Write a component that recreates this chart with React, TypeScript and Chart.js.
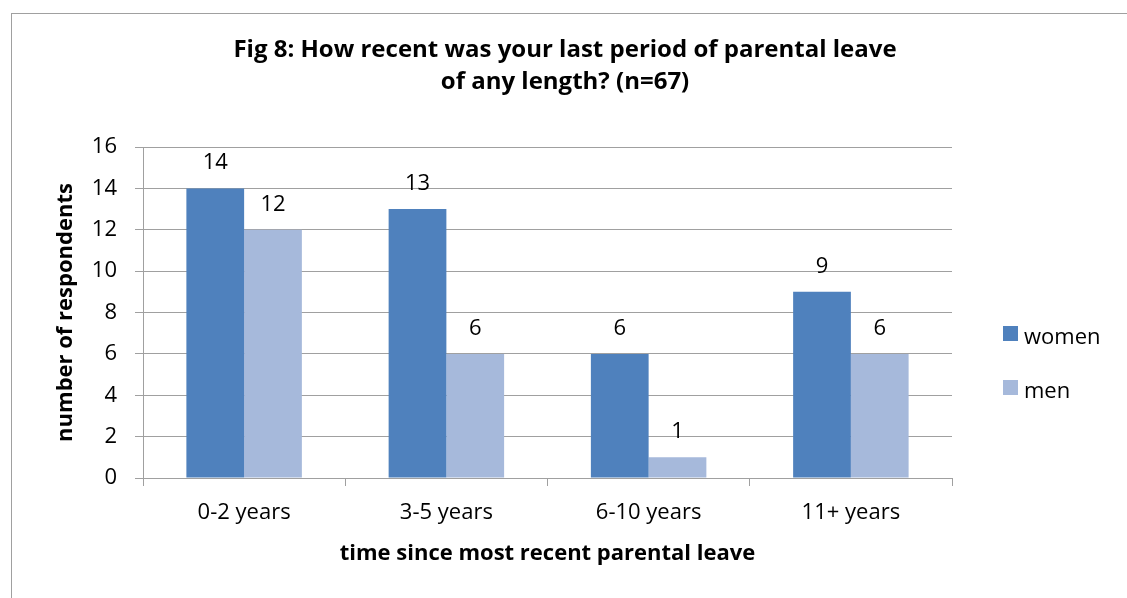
import React, { useEffect, useRef } from "react";
import { Chart, registerables } from "chart.js";

Chart.register(...registerables);

// ---- data ----
const categories = ["0-2 years", "3-5 years", "6-10 years", "11+ years"];
const seriesNames = ["women", "men"];
const womenValues = [14, 13, 6, 9];
const menValues = [12, 6, 1, 6];
const yMin = 0;
const yMax = 16;
const yStep = 2;
const titleLines = [
  "Fig 8: How recent was your last period of parental leave",
  "of any length? (n=67)",
];
const yAxisTitle = "number of respondents";
const xAxisTitle = "time since most recent parental leave";

// ---- styles ----
const FONT = "'Open Sans', 'Noto Sans', sans-serif";
const WOMEN_COLOR = "#4F81BD";
const MEN_COLOR = "#A6B9DB";
const GRID = "#A0A0A0";
const TEXT = "#000000";

const framePlugin = {
  id: "frame",
  beforeDraw(chart: any) {
    const ctx = chart.ctx;
    ctx.save();
    ctx.fillStyle = "#ffffff";
    ctx.fillRect(0, 0, chart.width, chart.height);
    ctx.strokeStyle = GRID;
    ctx.lineWidth = 1;
    ctx.strokeRect(11.5, 13.5, chart.width + 40, chart.height + 40);
    ctx.restore();
  },
};

const titlePlugin = {
  id: "customTitle",
  afterDraw(chart: any) {
    const ctx = chart.ctx;
    ctx.save();
    ctx.fillStyle = TEXT;
    ctx.font = `bold 24px ${FONT}`;
    ctx.textAlign = "center";
    ctx.textBaseline = "alphabetic";
    const cx = 565;
    ctx.fillText(titleLines[0], cx, 56.5);
    ctx.fillText(titleLines[1], cx, 89);
    ctx.restore();
  },
};

const valueLabelPlugin = {
  id: "valueLabels",
  afterDatasetsDraw(chart: any) {
    const ctx = chart.ctx;
    ctx.save();
    ctx.fillStyle = TEXT;
    ctx.font = `22px ${FONT}`;
    ctx.textAlign = "center";
    ctx.textBaseline = "alphabetic";
    chart.data.datasets.forEach((ds: any, di: number) => {
      const meta = chart.getDatasetMeta(di);
      meta.data.forEach((el: any, i: number) => {
        ctx.fillText(String(ds.data[i]), el.x, el.y - 19);
      });
    });
    ctx.restore();
  },
};

const legendPlugin = {
  id: "customLegend",
  afterDraw(chart: any) {
    const ctx = chart.ctx;
    ctx.save();
    ctx.font = `22px ${FONT}`;
    ctx.textAlign = "left";
    ctx.textBaseline = "alphabetic";
    const x0 = chart.chartArea.right + 51;
    const y0 = 326;
    const gap = 54;
    chart.data.datasets.forEach((ds: any, i: number) => {
      const y = y0 + i * gap;
      ctx.fillStyle = ds.backgroundColor;
      ctx.fillRect(x0, y, 15, 15);
      ctx.fillStyle = TEXT;
      ctx.fillText(ds.label, x0 + 21, y + 18);
    });
    ctx.restore();
  },
};

export default function App() {
  const ref = useRef<HTMLCanvasElement>(null);

  useEffect(() => {
    const canvas = ref.current;
    if (!canvas) return;
    const prevMargin = document.body.style.margin;
    document.body.style.margin = "0";
    const chart = new Chart(canvas, {
      type: "bar",
      data: {
        labels: categories,
        datasets: [
          {
            label: seriesNames[0],
            data: womenValues,
            backgroundColor: WOMEN_COLOR,
            categoryPercentage: 0.571,
            barPercentage: 1,
          },
          {
            label: seriesNames[1],
            data: menValues,
            backgroundColor: MEN_COLOR,
            categoryPercentage: 0.571,
            barPercentage: 1,
          },
        ],
      },
      options: {
        responsive: true,
        maintainAspectRatio: false,
        animation: false,
        layout: { padding: { left: 0, right: 175, top: 147, bottom: 0 } },
        plugins: {
          legend: { display: false },
          title: { display: false },
          tooltip: { enabled: false },
        },
        scales: {
          x: {
            grid: {
              display: true,
              drawOnChartArea: false,
              drawTicks: true,
              tickLength: 8,
              color: GRID,
              offset: true,
            },
            border: { display: true, color: GRID },
            ticks: {
              font: { family: FONT, size: 22 },
              color: TEXT,
              padding: 14,
            },
            title: {
              display: true,
              text: xAxisTitle,
              font: { family: FONT, size: 22, weight: "bold" },
              color: TEXT,
              padding: { top: 0, bottom: 31 },
            },
            afterFit: (s: any) => {
              s.height = 120;
            },
          },
          y: {
            min: yMin,
            max: yMax,
            ticks: {
              stepSize: yStep,
              font: { family: FONT, size: 22 },
              color: TEXT,
              padding: 18,
            },
            grid: { color: GRID, tickLength: 8 },
            border: { display: true, color: GRID },
            title: {
              display: true,
              text: yAxisTitle,
              font: { family: FONT, size: 22, weight: "bold" },
              color: TEXT,
              padding: { top: 53, bottom: 0 },
            },
            afterFit: (s: any) => {
              s.width = 143;
            },
          },
        },
      } as any,
      plugins: [framePlugin, titlePlugin, valueLabelPlugin, legendPlugin],
    });
    return () => {
      chart.destroy();
      document.body.style.margin = prevMargin;
    };
  }, []);

  return (
    <div style={{ position: "relative", width: 1127, height: 598 }}>
      <canvas ref={ref} />
    </div>
  );
}
